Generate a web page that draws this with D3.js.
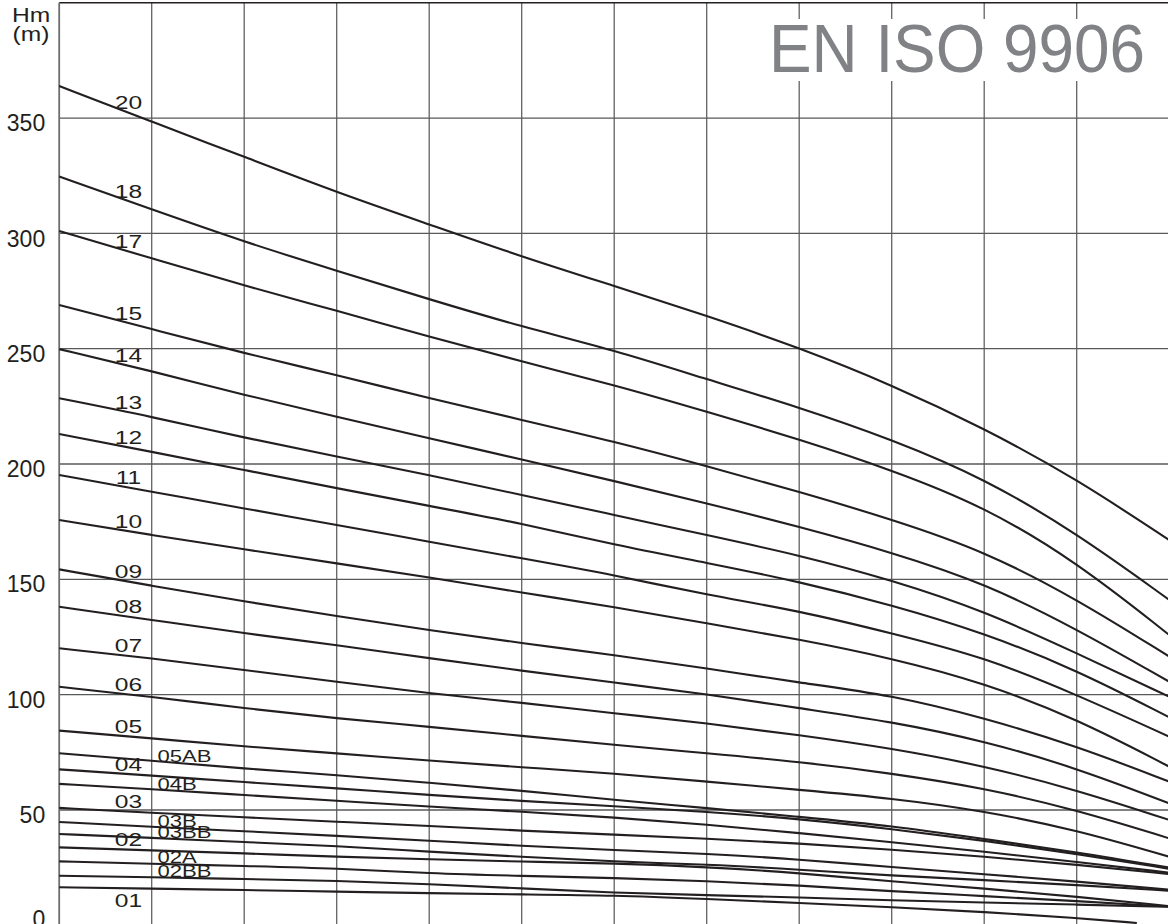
<!DOCTYPE html>
<html>
<head>
<meta charset="utf-8">
<script src="https://cdn.jsdelivr.net/npm/d3@7"></script>
<style>
  body { margin: 0; background: #fff; }
  svg { display: block; }
</style>
</head>
<body>
<div id="chart"></div>
<script>
// flow positions (one per vertical grid line) and head values (m) per pump curve
var q = [0, 1, 2, 3, 4, 5, 6, 7, 8, 9, 10, 11, 12];
var q01 = [0, 1, 2, 3, 4, 5, 6, 7, 8, 9, 10, 11, 11.65];

var h20 = [363.9, 348.4, 333.2, 317.8, 303.9, 289.9, 277.2, 264.3, 250.4, 234.3, 215.5, 193.5, 167.0];
var h18 = [324.6, 310.4, 296.3, 283.8, 271.4, 259.5, 249.4, 236.7, 224.6, 210.7, 193.8, 170.0, 141.1];
var h17 = [301.0, 289.2, 277.3, 266.5, 255.2, 244.4, 234.3, 222.7, 210.7, 197.4, 181.6, 157.5, 125.9];
var h15 = [268.9, 258.5, 248.0, 238.6, 228.5, 219.1, 209.7, 199.1, 188.0, 176.0, 162.3, 141.5, 116.5];
var h14 = [249.8, 240.3, 229.9, 220.5, 211.1, 202.0, 192.6, 183.0, 172.8, 161.7, 148.4, 128.5, 105.6];
var h13 = [228.5, 220.5, 211.4, 203.2, 195.2, 186.6, 177.9, 169.2, 160.5, 149.7, 136.3, 118.0, 99.1];
var h12 = [213.0, 205.3, 197.4, 189.5, 181.8, 174.3, 164.9, 157.2, 149.0, 138.9, 126.7, 110.7, 90.2];
var h11 = [195.2, 188.0, 180.7, 173.6, 166.3, 159.1, 151.9, 143.2, 136.4, 126.6, 116.3, 100.0, 81.8];
var h10 = [175.7, 169.2, 163.0, 156.9, 150.9, 144.2, 138.1, 130.9, 124.0, 115.8, 105.1, 89.5, 68.8];
var h09 = [154.3, 147.2, 140.4, 134.1, 128.0, 122.3, 117.2, 111.4, 105.2, 99.8, 89.9, 77.7, 62.3];
var h08 = [138.1, 132.4, 126.6, 121.5, 115.8, 110.4, 105.2, 100.3, 94.1, 88.3, 79.9, 68.2, 52.9];
var h07 = [120.1, 115.8, 110.7, 105.6, 100.6, 96.5, 91.9, 87.6, 82.5, 76.7, 69.1, 58.7, 45.7];
var h06 = [103.4, 99.1, 94.1, 89.7, 86.1, 82.1, 78.2, 74.6, 70.9, 65.9, 59.5, 50.0, 37.7];
var h05 = [84.4, 81.1, 77.5, 74.6, 71.4, 68.5, 65.9, 62.3, 58.7, 55.1, 49.6, 41.3, 29.7];
var h05AB = [74.6, 71.4, 67.9, 65.2, 61.8, 58.4, 54.3, 50.9, 47.0, 43.1, 37.4, 31.8, 25.0];
var h04 = [67.6, 64.9, 62.1, 59.4, 56.5, 53.9, 51.6, 49.3, 46.1, 41.8, 36.7, 31.0, 24.5];
var h04B = [61.3, 59.0, 56.5, 54.0, 51.4, 49.3, 46.8, 43.7, 40.0, 36.0, 32.0, 27.5, 22.8];
var h03 = [50.9, 48.8, 46.8, 44.9, 43.1, 41.0, 39.3, 37.6, 35.5, 32.8, 29.8, 26.3, 22.2];
var h03B = [44.8, 42.7, 40.8, 38.8, 36.7, 34.4, 32.6, 31.1, 28.6, 25.2, 22.2, 19.0, 15.4];
var h03BB = [39.6, 37.9, 36.1, 34.4, 31.9, 29.7, 27.6, 26.4, 24.2, 21.5, 19.6, 17.5, 15.0];
var h02 = [33.8, 32.5, 31.2, 29.7, 28.6, 27.6, 26.9, 25.3, 22.7, 19.0, 16.0, 12.4, 8.3];
var h02A = [27.7, 26.7, 25.7, 24.7, 22.5, 21.4, 20.5, 19.2, 17.3, 14.7, 12.7, 10.5, 8.1];
var h02BB = [21.5, 20.8, 20.1, 19.3, 17.9, 16.0, 14.1, 13.1, 12.1, 10.8, 9.9, 9.0, 8.0];
var h01 = [16.5, 15.9, 15.3, 14.6, 13.9, 13.4, 13.0, 11.4, 9.7, 7.9, 5.8, 3.2, 1.0];

var yTicks = [0, 50, 100, 150, 200, 250, 300, 350];
var yMax = 400;

var curves = [
  {name: "20", q: q, h: h20}, {name: "18", q: q, h: h18}, {name: "17", q: q, h: h17},
  {name: "15", q: q, h: h15}, {name: "14", q: q, h: h14}, {name: "13", q: q, h: h13},
  {name: "12", q: q, h: h12}, {name: "11", q: q, h: h11}, {name: "10", q: q, h: h10},
  {name: "09", q: q, h: h09}, {name: "08", q: q, h: h08}, {name: "07", q: q, h: h07},
  {name: "06", q: q, h: h06}, {name: "05", q: q, h: h05}, {name: "05AB", q: q, h: h05AB},
  {name: "04", q: q, h: h04}, {name: "04B", q: q, h: h04B}, {name: "03", q: q, h: h03},
  {name: "03B", q: q, h: h03B}, {name: "03BB", q: q, h: h03BB}, {name: "02", q: q, h: h02},
  {name: "02A", q: q, h: h02A}, {name: "02BB", q: q, h: h02BB}, {name: "01", q: q01, h: h01}
];

var width = 1168, height = 924;
var ink = "#231f20";
var font = "'Liberation Sans', Arial, Helvetica, sans-serif";

var x = d3.scaleLinear().domain([0, 12]).range([59.2, 1169.2]);
var y = d3.scaleLinear().domain([0, yMax]).range([925.3, 2.7]);

var svg = d3.select("#chart").append("svg")
  .attr("width", width)
  .attr("height", height);

// vertical grid
svg.append("g").selectAll("line")
  .data(q.slice(1))
  .enter().append("line")
  .attr("x1", function(d) { return x(d); })
  .attr("x2", function(d) { return x(d); })
  .attr("y1", y(yMax))
  .attr("y2", y(0))
  .attr("stroke", "#626366")
  .attr("stroke-width", 1.3);

// horizontal grid
svg.append("g").selectAll("line")
  .data(yTicks.slice(1))
  .enter().append("line")
  .attr("x1", x(0))
  .attr("x2", width)
  .attr("y1", function(d) { return y(d); })
  .attr("y2", function(d) { return y(d); })
  .attr("stroke", "#58595b")
  .attr("stroke-width", 1.3);

// top border and left axis
svg.append("line")
  .attr("x1", x(0)).attr("x2", width)
  .attr("y1", y(yMax)).attr("y2", y(yMax))
  .attr("stroke", ink).attr("stroke-width", 1.6);
svg.append("line")
  .attr("x1", x(0)).attr("x2", x(0))
  .attr("y1", y(yMax)).attr("y2", y(0))
  .attr("stroke", "#6d6e71").attr("stroke-width", 1.8);

// y tick labels
var yAxis = svg.append("g")
  .attr("transform", "translate(" + x(0) + ",0)")
  .call(d3.axisLeft(y).tickValues(yTicks).tickSize(0).tickPadding(14));
yAxis.select(".domain").remove();
yAxis.selectAll("text")
  .attr("font-family", font)
  .attr("font-size", "23px")
  .attr("fill", ink)
  .attr("dy", function(d) { return d === 0 ? "0.05em" : "0.55em"; });

// unit label
svg.append("text")
  .attr("transform", "translate(31,21.5) scale(1.2,1)")
  .attr("text-anchor", "middle")
  .attr("font-family", font).attr("font-size", "20.5px").attr("fill", ink)
  .text("Hm");
svg.append("text")
  .attr("transform", "translate(31,41) scale(1.2,1)")
  .attr("text-anchor", "middle")
  .attr("font-family", font).attr("font-size", "20.5px").attr("fill", ink)
  .text("(m)");

// standard mark, with white box hiding the grid behind it
svg.append("rect")
  .attr("x", 758).attr("y", 19)
  .attr("width", 395).attr("height", 62)
  .attr("fill", "#fff");
svg.append("text")
  .attr("x", 769).attr("y", 71.5)
  .attr("font-family", font)
  .attr("font-size", "69px")
  .attr("fill", "#808285")
  .attr("textLength", 376)
  .attr("lengthAdjust", "spacingAndGlyphs")
  .text("EN ISO 9906");

// pump curves
var line = d3.line()
  .x(function(d) { return x(d[0]); })
  .y(function(d) { return y(d[1]); })
  .curve(d3.curveBasis);

svg.append("g").selectAll("path")
  .data(curves)
  .enter().append("path")
  .attr("d", function(c) { return line(d3.zip(c.q, c.h)); })
  .attr("fill", "none")
  .attr("stroke", ink)
  .attr("stroke-width", 2.1);

// curve labels
function headAt(c, k) {
  var i = d3.bisectRight(c.q, k) - 1;
  i = Math.max(0, Math.min(i, c.q.length - 2));
  var t = (k - c.q[i]) / (c.q[i + 1] - c.q[i]);
  return c.h[i] + t * (c.h[i + 1] - c.h[i]);
}

svg.append("g").selectAll("text")
  .data(curves)
  .enter().append("text")
  .attr("transform", function(c) {
    var lettered = /[A-Z]/.test(c.name);
    if (lettered) {
      var ly = y(headAt(c, x.invert(183))) - 1;
      return "translate(157.5," + ly + ") scale(1.3,1)";
    }
    var lx = 128.4;
    var off = c.name === "01" ? 18.5 : -3.5;
    return "translate(" + lx + "," + (y(headAt(c, x.invert(lx))) + off) + ") scale(1.33,1)";
  })
  .attr("text-anchor", function(c) { return /[A-Z]/.test(c.name) ? "start" : "middle"; })
  .attr("font-family", font)
  .attr("font-size", function(c) { return /[A-Z]/.test(c.name) ? "17px" : "18.5px"; })
  .attr("fill", ink)
  .text(function(c) { return c.name; });
</script>
</body>
</html>
